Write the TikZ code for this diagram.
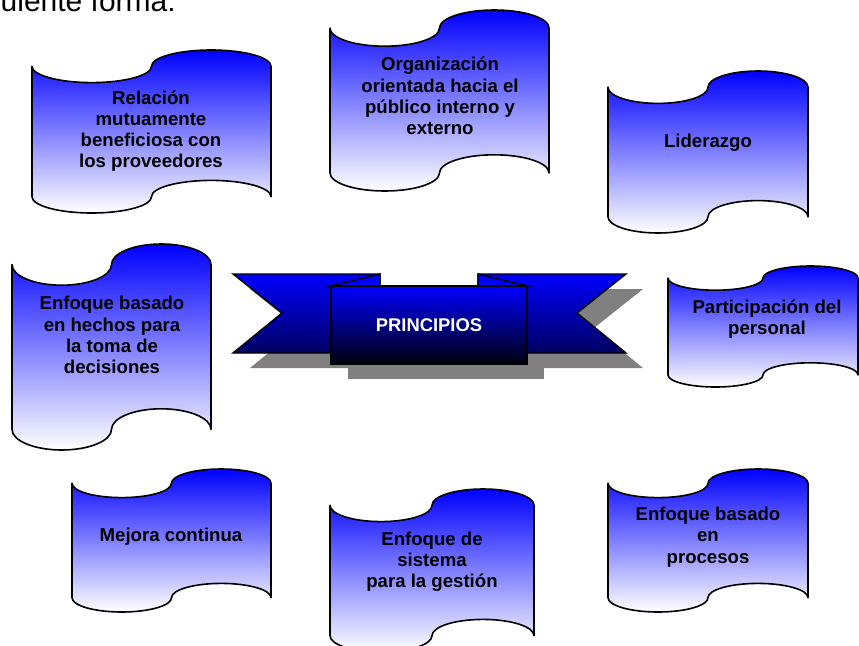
\documentclass[tikz,border=0pt]{standalone}
\usepackage{fontspec}
\setmainfont{Liberation Sans}
\begin{document}
\begin{tikzpicture}[x=1pt,y=-1pt,
  tapestyle/.style={draw=black,line width=1.6pt,line join=round,top color=blue,bottom color=white},
  tapetext/.style={font=\bfseries\fontsize{18.6}{21.2}\selectfont,align=center,text=black,inner sep=0pt},
  ribshadow/.style={fill=gray,draw=none},
  ribside/.style={draw=black,line width=1.4pt,line join=miter,top color=blue,bottom color=blue!38!black},
  ribcenter/.style={draw=black,line width=1.4pt,top color=blue,bottom color=black!95!blue},
  ribfold/.style={draw=black,line width=1.4pt,line join=miter,fill=blue}]
\useasboundingbox (0,0) rectangle (859,645);
\newcommand\tapeshape[4]{%
  \begin{scope}[shift={(#1,#2)},xscale=#3,yscale=#4]
    \shade[tapestyle] (0,0.1) .. controls (0,0.1552) and (0.1119,0.2) .. (0.25,0.2)
      .. controls (0.3881,0.2) and (0.5,0.1552) .. (0.5,0.1)
      .. controls (0.5,0.0448) and (0.6119,0) .. (0.75,0)
      .. controls (0.8881,0) and (1,0.0448) .. (1,0.1)
      -- (1,0.9)
      .. controls (1,0.8448) and (0.8881,0.8) .. (0.75,0.8)
      .. controls (0.6119,0.8) and (0.5,0.8448) .. (0.5,0.9)
      .. controls (0.5,0.9552) and (0.3881,1) .. (0.25,1)
      .. controls (0.1119,1) and (0,0.9552) .. (0,0.9) -- cycle;
  \end{scope}}

% heading text (clipped at top)
\node[anchor=base east,inner sep=0pt,font=\fontsize{30}{36}\selectfont] (head) at (176,12) {siguiente forma:};

% tapes
\tapeshape{32}{50}{239}{163}
\node[tapetext] (t1) at (151,131) {Relación\\mutuamente\\beneficiosa con\\los proveedores};
\tapeshape{330}{10}{219}{181}
\node[tapetext] (t2) at (440,96) {Organización\\orientada hacia el\\público interno y\\externo};
\tapeshape{608}{71}{200}{162}
\node[tapetext] (t3) at (708,143) {Liderazgo};
\tapeshape{12}{244}{199}{206}
\node[tapetext] (t4) at (112,335) {Enfoque basado\\en hechos para\\la toma de\\decisiones};
\tapeshape{668}{266}{190}{121}
\node[tapetext] (t5) at (767,319) {Participación del\\personal};
\tapeshape{72}{469}{199}{143}
\node[tapetext] (t6) at (171,537) {Mejora continua};
\tapeshape{330}{489}{204}{163}
\node[tapetext] (t7) at (432,562) {Enfoque de\\sistema\\para la gestión};
\tapeshape{608}{469}{200}{143}
\node[tapetext] (t8) at (708,537) {Enfoque basado\\en\\procesos};

% ribbon shadow
\begin{scope}[shift={(17,15)}]
  \fill[ribshadow] (233,274) -- (380,274) -- (380,353) -- (233,353) -- (282,313) -- cycle;
  \fill[ribshadow] (626,274) -- (478,274) -- (478,353) -- (626,353) -- (577,313) -- cycle;
  \fill[ribshadow] (331,286) rectangle (527,364);
\end{scope}
% ribbon
\shade[ribside] (233,274) -- (380,274) -- (380,353) -- (233,353) -- (282,313) -- cycle;
\shade[ribside] (626,274) -- (478,274) -- (478,353) -- (626,353) -- (577,313) -- cycle;
\draw[ribfold] (331,286) -- (380,274) -- (380,286) -- cycle;
\draw[ribfold] (527,286) -- (478,274) -- (478,286) -- cycle;
\shade[ribcenter] (331,286) rectangle (527,364);
\node[font=\bfseries\fontsize{18.4}{21}\selectfont,text=white,inner sep=0pt] (princ) at (429,325) {PRINCIPIOS};
\end{tikzpicture}
\end{document}
